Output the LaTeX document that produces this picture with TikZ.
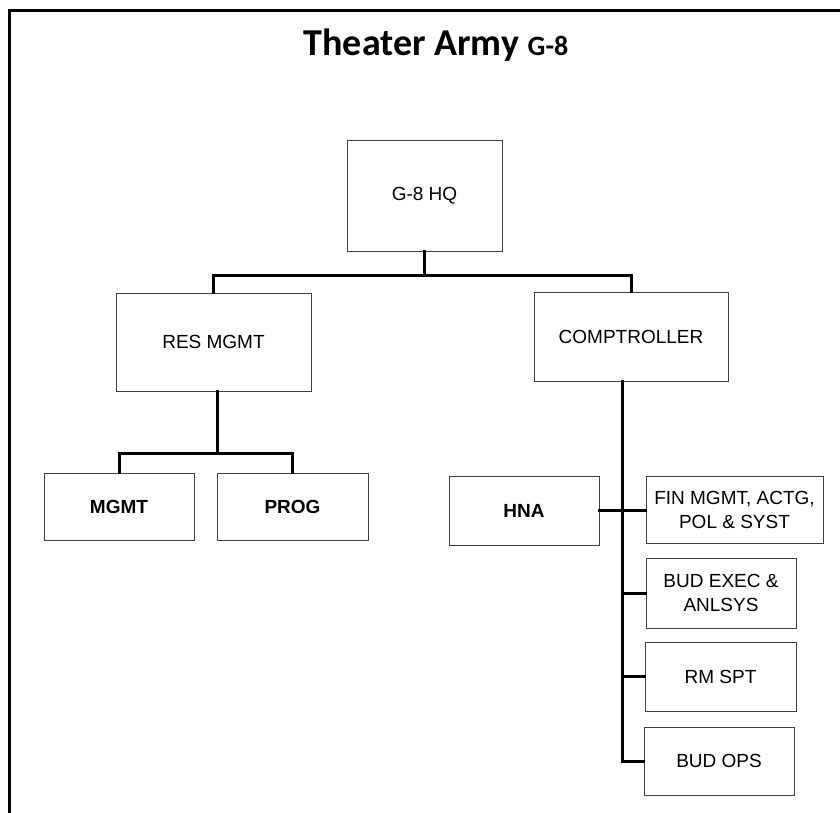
\documentclass[tikz,border=0pt]{standalone}
\usepackage{fontspec}
\setmainfont{Liberation Sans}
\newfontfamily\titlefont{Carlito}
\usepackage{tikz}
\tikzset{
  unit/.style={draw=black!75,line width=1pt,align=center,inner sep=2pt,
    font=\fontsize{19}{24}\selectfont},
  conn/.style={line width=3pt,line cap=rect}
}

\begin{document}
\begin{tikzpicture}[x=1pt,y=-1pt]
			\useasboundingbox (0,0) rectangle (840,813);
			\draw[line width=3pt] (9,813)--(9,11)--(840,11);
			\node[font=\titlefont\bfseries] (title) at (436,45) {\fontsize{38}{42}\selectfont Theater Army \fontsize{28}{32}\selectfont G-8};
			\node[unit,minimum width=155,minimum height=110] (hq) at (424.5,196) {G-8 HQ};
			\node[unit,minimum width=195,minimum height=98] (res) at (213.5,342) {RES MGMT};
			\node[unit,minimum width=194,minimum height=89] (comp) at (631,336.5) {COMPTROLLER};
			\node[unit,minimum width=150,minimum height=67,font=\fontsize{19}{24}\selectfont\bfseries] (mgmt) at (119,506.5) {MGMT};
			\node[unit,minimum width=151,minimum height=67,font=\fontsize{19}{24}\selectfont\bfseries] (prog) at (292.5,506.5) {PROG};
			\node[unit,minimum width=150,minimum height=69,font=\fontsize{19}{24}\selectfont\bfseries] (hna) at (524,510.5) {HNA};
			\node[unit,minimum width=177,minimum height=67] (fin) at (734.5,509.5) {FIN MGMT, ACTG,\\POL \& SYST};
			\node[unit,minimum width=150,minimum height=70] (bud) at (721,593) {BUD EXEC \&\\ANLSYS};
			\node[unit,minimum width=151,minimum height=69] (rm) at (720.5,676.5) {RM SPT};
			\node[unit,minimum width=150,minimum height=68] (ops) at (719,761) {BUD OPS};
			\coordinate (hqbar) at (424.5,275);
			\coordinate (resbar) at (217,453);
			\coordinate (spine) at (622,381);
			\draw[conn] (hq.south)--(hqbar);
			\draw[conn] (res.north)|-(hqbar)-|(comp.north);
			\draw[conn] (res.south-|resbar)--(resbar);
			\draw[conn] (mgmt.north)|-(resbar)-|(prog.north);
			\draw[conn] (spine)|-(ops.west);
			\draw[conn] (hna.east)--(hna.east-|fin.west);
			\draw[conn] (bud.west)--(bud.west-|spine);
			\draw[conn] (rm.west)--(rm.west-|spine);
		\end{tikzpicture}
\end{document}
